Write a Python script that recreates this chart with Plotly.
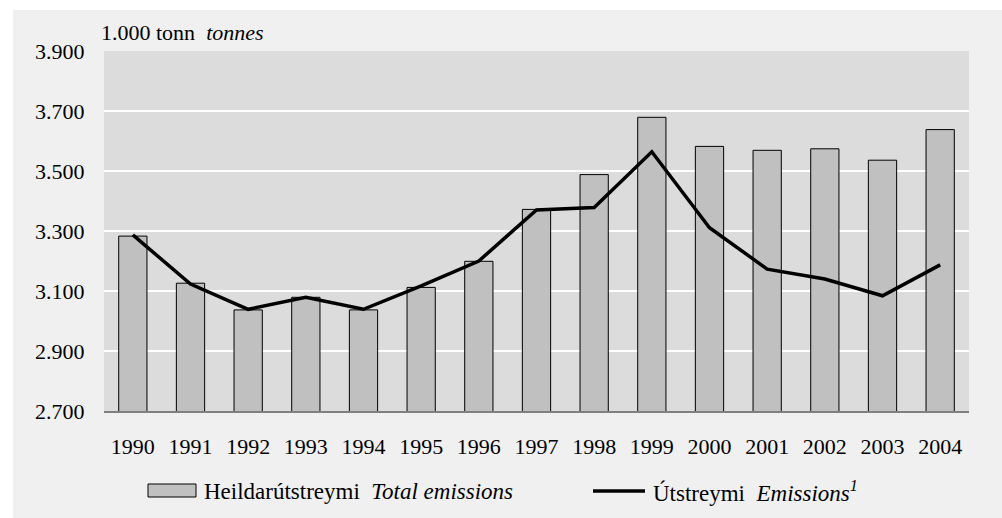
import plotly.graph_objects as go

years = ["1990", "1991", "1992", "1993", "1994", "1995", "1996", "1997",
         "1998", "1999", "2000", "2001", "2002", "2003", "2004"]
total_emissions = [3283, 3126, 3037, 3079, 3037, 3112, 3199, 3372,
                   3488, 3679, 3582, 3569, 3574, 3536, 3638]
emissions = [3287, 3123, 3039, 3079, 3039, 3117, 3200, 3370,
             3378, 3564, 3311, 3173, 3140, 3084, 3187]
y_ticks = [2700, 2900, 3100, 3300, 3500, 3700, 3900]
y_ticktext = ["2.700", "2.900", "3.100", "3.300", "3.500", "3.700", "3.900"]

FONT = "Liberation Serif"
L, R, T, B = 104, 33, 51, 107
W, H = 1002, 518
PW, PH = W - L - R, H - T - B


def px(x):
    return (x - L) / PW


def py(y):
    return (H - B - y) / PH


fig = go.Figure()
fig.add_trace(go.Bar(
    x=years, y=total_emissions, width=0.49,
    marker=dict(color="#c0c0c0", line=dict(color="#000000", width=1)),
    name="Heildarútstreymi Total emissions", showlegend=False,
))
fig.add_trace(go.Scatter(
    x=years, y=emissions, mode="lines",
    line=dict(color="#000000", width=3.5),
    name="Útstreymi Emissions", showlegend=False,
))

shapes = [
    # white border strips (top, left)
    dict(type="rect", xref="paper", yref="paper", x0=px(0), x1=px(W),
         y0=py(10), y1=py(0), fillcolor="#ffffff", line=dict(width=0), layer="below"),
    dict(type="rect", xref="paper", yref="paper", x0=px(0), x1=px(13),
         y0=py(H), y1=py(0), fillcolor="#ffffff", line=dict(width=0), layer="below"),
    # plot area
    dict(type="rect", xref="paper", yref="paper", x0=0, x1=1, y0=0, y1=1,
         fillcolor="#dcdcdc", line=dict(width=0), layer="below"),
    # legend box
    dict(type="rect", xref="paper", yref="paper", x0=px(148), x1=px(196),
         y0=py(497), y1=py(484), fillcolor="#c0c0c0",
         line=dict(color="#000000", width=1)),
    # legend line
    dict(type="line", xref="paper", yref="paper", x0=px(593), x1=px(645),
         y0=py(491), y1=py(491), line=dict(color="#000000", width=3.5)),
]

annotations = [
    dict(text="1.000 tonn  <i>tonnes</i>", xref="paper", yref="paper",
         x=px(99), y=py(33), xanchor="left", yanchor="middle", showarrow=False,
         font=dict(family=FONT, size=22, color="#000000")),
    dict(text="Heildarútstreymi  <i>Total emissions</i>", xref="paper", yref="paper",
         x=px(202), y=py(491), xanchor="left", yanchor="middle", showarrow=False,
         font=dict(family=FONT, size=23, color="#000000")),
    dict(text="Útstreymi  <i>Emissions<sup>1</sup></i>", xref="paper", yref="paper",
         x=px(651), y=py(491), xanchor="left", yanchor="middle", showarrow=False,
         font=dict(family=FONT, size=23, color="#000000")),
]

fig.update_layout(
    width=W, height=H,
    margin=dict(l=L, r=R, t=T, b=B, autoexpand=False),
    paper_bgcolor="#f0f0f0",
    plot_bgcolor="rgba(0,0,0,0)",
    shapes=shapes,
    annotations=annotations,
    showlegend=False,
    bargap=0.51,
)
fig.update_xaxes(
    type="category", showgrid=False, showline=True, linecolor="#808080", linewidth=1.5,
    ticks="outside", ticklen=15, tickcolor="rgba(0,0,0,0)",
    tickfont=dict(family=FONT, size=22, color="#000000"),
)
fig.update_yaxes(
    range=[2700, 3900], tickvals=y_ticks, ticktext=y_ticktext,
    showgrid=True, gridcolor="#ffffff", gridwidth=2, zeroline=False,
    ticks="outside", ticklen=14, tickcolor="rgba(0,0,0,0)",
    tickfont=dict(family=FONT, size=22, color="#000000"),
)

fig.write_html(
    "out.html",
    config={"displayModeBar": False},
    post_script=(
        "document.body.style.margin='0';"
        "document.body.style.overflow='hidden';"
        "document.body.style.background='#f0f0f0';"
        "document.documentElement.style.background='#f0f0f0';"
    ),
)
